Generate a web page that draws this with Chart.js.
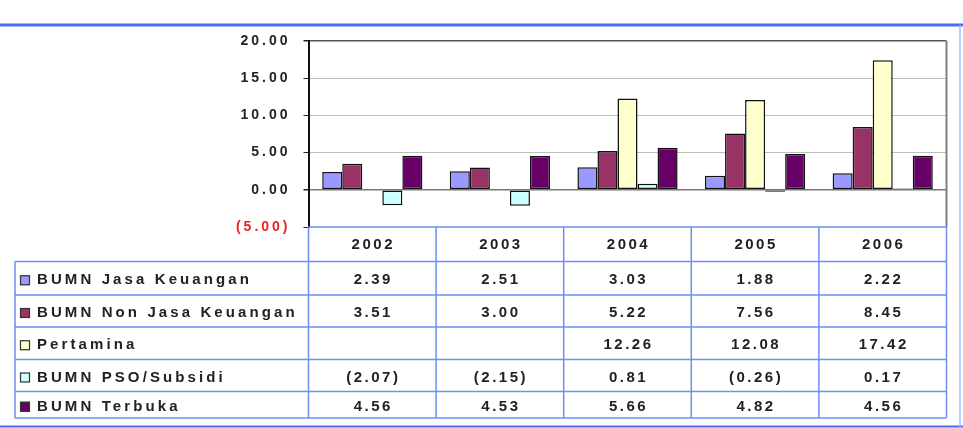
<!DOCTYPE html>
<html>
<head>
<meta charset="utf-8">
<script src="https://cdn.jsdelivr.net/npm/chart.js@4.4.1/dist/chart.umd.min.js"></script>
<style>
  html, body { margin: 0; padding: 0; background: #fff; }
  #wrap { width: 963px; height: 428px; }
</style>
</head>
<body>
<div id="wrap"><canvas id="grafik" width="963" height="428"></canvas></div>
<script>
// data
const tahun = ['2002', '2003', '2004', '2005', '2006'];
const jasaKeuangan = [2.39, 2.51, 3.03, 1.88, 2.22];
const nonJasaKeuangan = [3.51, 3.00, 5.22, 7.56, 8.45];
const pertamina = [null, null, 12.26, 12.08, 17.42];
const psoSubsidi = [-2.07, -2.15, 0.81, -0.26, 0.17];
const terbuka = [4.56, 4.53, 5.66, 4.82, 4.56];
const yTicks = [-5, 0, 5, 10, 15, 20];

const FONT = "'Liberation Sans', Arial, sans-serif";
const BLUE = '#6f8ef2';

function fmt(v) {
    if (v === null || v === undefined) return '';
    return v < 0 ? '(' + Math.abs(v).toFixed(2) + ')' : v.toFixed(2);
}

const seri = [
    { label: 'BUMN Jasa Keuangan', data: jasaKeuangan, color: '#9999ff' },
    { label: 'BUMN Non Jasa Keuangan', data: nonJasaKeuangan, color: '#993366' },
    { label: 'Pertamina', data: pertamina, color: '#ffffcc' },
    { label: 'BUMN PSO/Subsidi', data: psoSubsidi, color: '#ccffff' },
    { label: 'BUMN Terbuka', data: terbuka, color: '#660066' }
];

// letter spacing + data table under the plot
const tabelPlugin = {
    id: 'tabel',
    beforeDraw(chart) {
        chart.ctx.letterSpacing = '3px';
    },
    afterDraw(chart) {
        const ctx = chart.ctx;
        const area = chart.chartArea;
        const x = chart.scales.x;
        const colW = (area.right - area.left) / tahun.length;
        const headTop = area.bottom;
        const rows = [261.5, 295, 327, 359.5, 391.5, 418];
        const tableLeft = 15;

        ctx.save();

        // right border of plot
        ctx.strokeStyle = '#808080';
        ctx.lineWidth = 2;
        ctx.beginPath();
        ctx.moveTo(area.right, area.top);
        ctx.lineTo(area.right, area.bottom);
        ctx.stroke();

        // table lines
        ctx.strokeStyle = BLUE;
        ctx.lineWidth = 1.5;
        ctx.beginPath();
        ctx.moveTo(area.left, headTop);
        ctx.lineTo(area.right, headTop);
        rows.forEach(function (y) {
            ctx.moveTo(tableLeft, y);
            ctx.lineTo(area.right, y);
        });
        ctx.moveTo(tableLeft, rows[0]);
        ctx.lineTo(tableLeft, rows[rows.length - 1]);
        for (let i = 0; i <= tahun.length; i++) {
            const bx = area.left + i * colW;
            ctx.moveTo(bx, headTop);
            ctx.lineTo(bx, rows[rows.length - 1]);
        }
        ctx.stroke();

        // outer frame
        ctx.strokeStyle = '#4a6cf0';
        ctx.lineWidth = 3;
        ctx.beginPath();
        ctx.moveTo(0, 25);
        ctx.lineTo(963, 25);
        ctx.stroke();
        ctx.lineWidth = 2;
        ctx.beginPath();
        ctx.moveTo(0, 426.5);
        ctx.lineTo(963, 426.5);
        ctx.stroke();
        ctx.strokeStyle = '#a9bbf5';
        ctx.lineWidth = 1.5;
        ctx.beginPath();
        ctx.moveTo(960, 25);
        ctx.lineTo(960, 426.5);
        ctx.stroke();

        // header years
        ctx.letterSpacing = '2.5px';
        ctx.fillStyle = '#222';
        ctx.font = 'bold 15px ' + FONT;
        ctx.textAlign = 'center';
        ctx.textBaseline = 'middle';
        tahun.forEach(function (t, i) {
            ctx.fillText(t, x.getPixelForValue(i) + 1, (headTop + rows[0]) / 2 + 1);
        });

        // rows
        seri.forEach(function (s, r) {
            const yMid = (rows[r] + rows[r + 1]) / 2 + 2;
            ctx.fillStyle = s.color;
            ctx.fillRect(20, yMid - 5, 10, 10);
            ctx.strokeStyle = '#333';
            ctx.lineWidth = 1.2;
            ctx.strokeRect(20.5, yMid - 4.5, 9, 9);
            ctx.fillStyle = '#222';
            ctx.textAlign = 'left';
            ctx.letterSpacing = '3.1px';
            ctx.fillText(s.label, 37, yMid);
            ctx.textAlign = 'center';
            ctx.letterSpacing = '2.5px';
            s.data.forEach(function (v, i) {
                ctx.fillText(fmt(v), x.getPixelForValue(i) + 1, yMid);
            });
        });
        ctx.restore();
    }
};

const ctx = document.getElementById('grafik').getContext('2d');

new Chart(ctx, {
    type: 'bar',
    data: {
        labels: tahun,
        datasets: seri.map(function (s) {
            return {
                label: s.label,
                data: s.data,
                backgroundColor: s.color,
                borderColor: '#111',
                borderWidth: 1.5,
                borderSkipped: false,
                categoryPercentage: 0.785,
                barPercentage: 1.0
            };
        })
    },
    options: {
        responsive: false,
        animation: false,
        layout: {
            padding: { left: 0, right: 16.5, top: 41, bottom: 201 }
        },
        plugins: {
            legend: { display: false },
            tooltip: { enabled: false },
            title: { display: false }
        },
        scales: {
            x: {
                display: false
            },
            y: {
                min: yTicks[0],
                max: yTicks[yTicks.length - 1],
                afterFit: function (scale) { scale.width = 308.5; },
                afterBuildTicks: function (scale) {
                    scale.ticks = yTicks.map(function (v) { return { value: v }; });
                },
                ticks: {
                    padding: 13,
                    font: { family: FONT, size: 14, weight: 'bold' },
                    color: function (c) { return c.tick.value < 0 ? '#ee2020' : '#222'; },
                    callback: function (v) { return fmt(v); }
                },
                grid: {
                    tickLength: 5,
                    tickColor: '#222',
                    lineWidth: function (c) { return c.tick.value === 20 || c.tick.value === 0 ? 1.5 : 1; },
                    color: function (c) {
                        if (c.tick.value === 20) return '#555';
                        if (c.tick.value === 0) return '#777';
                        if (c.tick.value < 0) return 'rgba(0,0,0,0)';
                        return '#bdbdbd';
                    }
                },
                border: { display: true, color: '#111', width: 2 }
            }
        }
    },
    plugins: [tabelPlugin]
});
</script>
</body>
</html>
